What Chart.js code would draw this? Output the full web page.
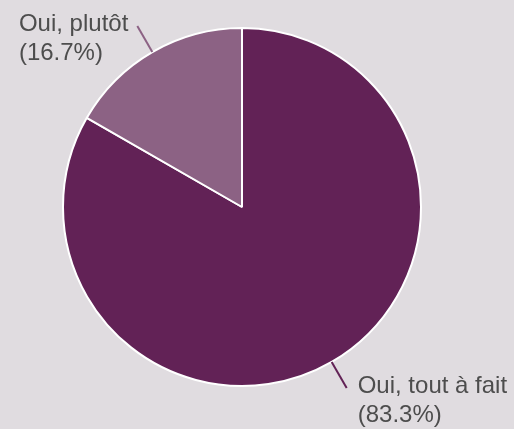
<!DOCTYPE html>
<html>
<head>
<meta charset="utf-8">
<script src="https://cdn.jsdelivr.net/npm/chart.js@4"></script>
<style>
  html, body { margin: 0; padding: 0; background: #e0dce0; }
  #wrap { width: 514px; height: 429px; }
</style>
</head>
<body>
<div id="wrap"><canvas id="myChart" width="514" height="429"></canvas></div>
<script>
const labels = ['Oui, tout à fait', 'Oui, plutôt'];
const values = [83.3, 16.7];
const colors = ['#622256', '#8c6284'];

// draws the outside labels with a short leader line
const outLabels = {
    id: 'outLabels',
    afterDatasetsDraw(chart) {
        const c = chart.ctx;
        const arcs = chart.getDatasetMeta(0).data;
        c.save();
        c.font = '24px "Liberation Sans", Arial, sans-serif';
        c.textBaseline = 'middle';
        arcs.forEach((arc, i) => {
            const mid = (arc.startAngle + arc.endAngle) / 2;
            const r = arc.outerRadius;
            const x1 = arc.x + Math.cos(mid) * r;
            const y1 = arc.y + Math.sin(mid) * r;
            const x2 = arc.x + Math.cos(mid) * (r + 30);
            const y2 = arc.y + Math.sin(mid) * (r + 30);
            c.strokeStyle = colors[i];
            c.lineWidth = 2;
            c.beginPath();
            c.moveTo(x1, y1);
            c.lineTo(x2, y2);
            c.stroke();
            const lines = [labels[i], '(' + values[i].toFixed(1) + '%)'];
            const w = Math.max(...lines.map(t => c.measureText(t).width));
            const left = Math.cos(mid) < 0;
            const tx = left ? x2 - 9 - w : x2 + 11;
            c.fillStyle = '#4d4d4d';
            c.textAlign = 'left';
            lines.forEach((t, k) => c.fillText(t, tx, y2 - 2 + k * 29));
        });
        c.restore();
    }
};

const ctx = document.getElementById('myChart').getContext('2d');
const myChart = new Chart(ctx, {
    type: 'pie',
    data: {
        labels: labels,
        datasets: [{
            data: values,
            backgroundColor: colors,
            borderColor: '#ffffff',
            borderWidth: 2,
        }],
    },
    options: {
        responsive: false,
        animation: false,
        layout: { padding: { top: 27, bottom: 42, left: 62, right: 92 } },
        plugins: {
            legend: { display: false },
            tooltip: { enabled: false },
        },
    },
    plugins: [outLabels],
});
</script>
</body>
</html>
